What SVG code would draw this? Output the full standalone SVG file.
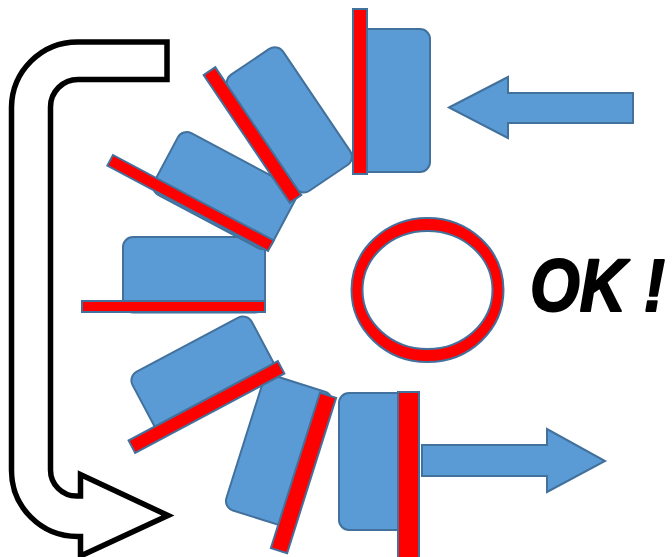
<svg xmlns="http://www.w3.org/2000/svg" width="672" height="557" viewBox="0 0 672 557">
<style>
.body{fill:#5B9BD5;stroke:#41719C;stroke-width:2}
.bar{fill:#FF0000;stroke:#41719C;stroke-width:2}
.barrow{fill:#5B9BD5;stroke:#41719C;stroke-width:2;stroke-linejoin:miter}
.uturn{fill:#FFFFFF;stroke:#000000;stroke-width:5.5;stroke-linejoin:miter}
.ok{font-family:"Liberation Sans",Arial,sans-serif;font-weight:bold;font-style:italic;font-size:64px;fill:#000000;stroke:#000000;stroke-width:1.8;stroke-linejoin:round}
</style>
<rect width="672" height="557" fill="#FFFFFF"/>
<g id="uturn-arrow">
<path class="uturn" d="M167,42 L167,79.5 L78,79.5 A27.5,27.5 0 0 0 50.5,107 L50.5,470 A26,26 0 0 0 76.5,496 L80.5,496 L80.5,474.5 L168,515.5 L80.5,556 L80.5,536.5 L77.5,536.5 A66,66 0 0 1 11.5,470.5 L11.5,107.5 A66,66 0 0 1 77.5,42 Z"/>
</g>
<g id="tile7" transform="translate(408.5,479.5) rotate(-180)">
<rect class="body" x="-10" y="-50.5" width="79.5" height="137" rx="10"/>
<rect class="bar" x="-10.5" y="-87.5" width="21" height="175"/>
</g>
<g id="tile6" transform="translate(303.5,473) rotate(-162.5)">
<rect class="body" x="-6" y="-57" width="72" height="141" rx="10"/>
<rect class="bar" x="-8.5" y="-81.5" width="17" height="163"/>
</g>
<g id="tile5" transform="translate(206.5,407) rotate(-118)">
<rect class="body" x="-6" y="-55" width="70" height="135" rx="10"/>
<rect class="bar" x="-7" y="-84.5" width="14" height="169"/>
</g>
<g id="tile4" transform="translate(173.5,306.5) rotate(-90)">
<rect class="body" x="-6" y="-50.5" width="75.5" height="142" rx="10"/>
<rect class="bar" x="-5.5" y="-91.5" width="11" height="183"/>
</g>
<g id="tile3" transform="translate(190.5,203) rotate(-62)">
<rect class="body" x="-8" y="-42" width="70" height="133" rx="10"/>
<rect class="bar" x="-6" y="-91" width="12" height="182"/>
</g>
<g id="tile2" transform="translate(252.5,135) rotate(-34)">
<rect class="body" x="6" y="-62" width="66" height="140" rx="10"/>
<rect class="bar" x="-7" y="-77" width="14" height="154"/>
</g>
<g id="tile1" transform="translate(360,91.5)">
<rect class="body" x="-2" y="-62.5" width="72" height="143" rx="10"/>
<rect class="bar" x="-7" y="-82.5" width="14" height="165"/>
</g>
<g id="ring">
<path class="bar" fill-rule="evenodd" d="M351.5,290 A76,72 0 1 0 503.5,290 A76,72 0 1 0 351.5,290 Z M362.5,290 A65,59 0 1 1 492.5,290 A65,59 0 1 1 362.5,290 Z"/>
</g>
<g id="connectors">
<polygon id="arrow-in" class="barrow" points="449,107.5 508,77 508,93 633,93 633,123 508,123 508,138"/>
<polygon id="arrow-out" class="barrow" points="422,445 547,445 547,429 605,461 547,492 547,476 422,476"/>
</g>
<g id="label">
<text class="ok" transform="translate(530,311) scale(1,1.17)" x="0" y="0">OK !</text>
</g>
</svg>
